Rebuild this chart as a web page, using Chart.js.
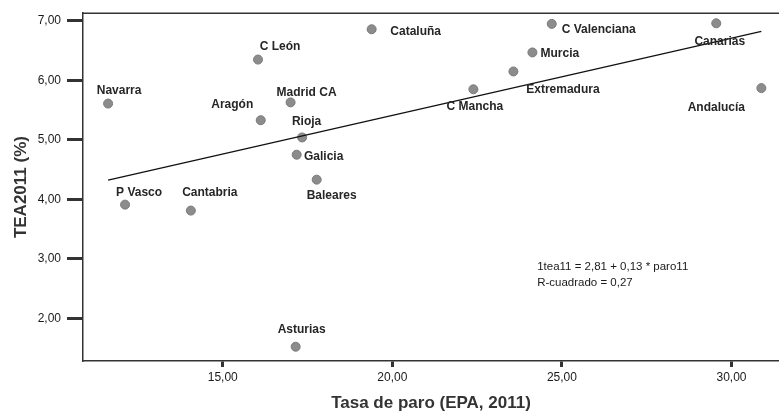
<!DOCTYPE html>
<html><head><meta charset="utf-8">
<script src="https://cdn.jsdelivr.net/npm/chart.js@4"></script>
<style>html,body{margin:0;padding:0;background:#fff}#wrap{width:779px;height:416px}</style>
</head><body><div id="wrap"><canvas id="c" width="779" height="416"></canvas></div>
<script>
// ---- data ----
const regions = ['Navarra','C León','Aragón','Madrid CA','Rioja','Galicia','Baleares','Cataluña','P Vasco','Cantabria','Asturias','C Valenciana','Murcia','Extremadura','C Mancha','Canarias','Andalucía'];
const paro = [11.62,16.04,16.12,17.00,17.34,17.18,17.77,19.39,12.12,14.06,17.15,24.70,24.13,23.57,22.39,29.55,30.88];
const tea  = [5.61,6.35,5.33,5.63,5.04,4.75,4.33,6.86,3.91,3.81,1.52,6.95,6.47,6.15,5.85,6.96,5.87];
const xTicks = [15,20,25,30];
const yTicks = [2,3,4,5,6,7];
const fitIntercept = 2.81;
const fitSlope = 0.13;
const equationLines = ['1tea11 = 2,81 + 0,13 * paro11', 'R-cuadrado = 0,27'];
const xTitle = 'Tasa de paro (EPA, 2011)';
const yTitle = 'TEA2011 (%)';

// ---- label placement (pixel offsets of label centre from point) ----
const labelOffsets = [[11,-12.5],[22,-13],[-28.5,-16],[16,-9.5],[4.5,-16],[27,2],[15,16],[44,2],[14,-12],[19,-18],[6,-17],[47,5.6],[27.4,1.6],[49.5,18.6],[1.4,17],[3.5,18.4],[-45,19.4]];
const eqAnchor = {x:24.27, y:2.86, lineGap:16};

const fmt = v => Number(v).toFixed(2).replace('.', ',');
const pts = paro.map((x,i)=>({x:x, y:tea[i]}));
const xMin = Math.min(...paro), xMax = Math.max(...paro);
const fitPts = [xMin, xMax].map(x=>({x:x, y:fitIntercept + fitSlope*x}));

const FONT = "'Liberation Sans', Arial, sans-serif";

const annot = {
  id:'annot',
  afterDraw(chart){
    const ctx = chart.ctx, ca = chart.chartArea;
    ctx.save();
    // top frame line
    ctx.strokeStyle = '#333'; ctx.lineWidth = 1.5;
    ctx.beginPath(); ctx.moveTo(ca.left, ca.top); ctx.lineTo(ca.right, ca.top); ctx.stroke();
    // point labels
    const meta = chart.getDatasetMeta(1);
    ctx.font = 'bold 12px ' + FONT;
    ctx.fillStyle = '#262626';
    ctx.textAlign = 'center'; ctx.textBaseline = 'middle';
    meta.data.forEach((el,i)=>{
      const o = labelOffsets[i];
      ctx.fillText(regions[i], el.x + o[0], el.y + o[1]);
    });
    // equation
    const xs = chart.scales.x, ys = chart.scales.y;
    ctx.font = '11.5px ' + FONT;
    ctx.fillStyle = '#1a1a1a';
    ctx.textAlign = 'left';
    const ex = xs.getPixelForValue(eqAnchor.x), ey = ys.getPixelForValue(eqAnchor.y);
    equationLines.forEach((t,i)=>ctx.fillText(t, ex, ey + i*eqAnchor.lineGap));
    ctx.restore();
  }
};

new Chart(document.getElementById('c'), {
  type:'scatter',
  data:{ datasets:[
    { type:'line', data:fitPts, borderColor:'#111', borderWidth:1.3, pointRadius:0, fill:false, tension:0 },
    { data:pts, backgroundColor:'#8c8c8c', borderColor:'#7a7a7a', borderWidth:1, pointRadius:4.5, pointHoverRadius:4.5 }
  ]},
  options:{
    responsive:false, animation:false,
    layout:{ autoPadding:false, padding:{ top:12, right:0, left:0, bottom:0 } },
    plugins:{ legend:{display:false}, tooltip:{enabled:false} },
    scales:{
      x:{ type:'linear', min:10.88, max:31.4,
        afterBuildTicks: s => { s.ticks = xTicks.map(v=>({value:v})); },
        afterFit: s => { s.height = 55; },
        grid:{ drawOnChartArea:false, drawTicks:true, tickLength:6, tickWidth:3, tickColor:'#333' },
        border:{ color:'#333', width:1.5 },
        ticks:{ font:{family:FONT, size:12}, color:'#1a1a1a', padding:3, callback: v=>fmt(v), maxRotation:0 },
        title:{ display:true, text:xTitle, font:{family:FONT, size:17, weight:'bold'}, color:'#333', padding:{top:4, bottom:2} }
      },
      y:{ type:'linear', min:1.28, max:7.13,
        afterBuildTicks: s => { s.ticks = yTicks.map(v=>({value:v})); },
        afterFit: s => { s.width = 83; },
        grid:{ drawOnChartArea:false, drawTicks:true, tickLength:16, tickWidth:3, tickColor:'#333' },
        border:{ color:'#333', width:1.5 },
        ticks:{ font:{family:FONT, size:12}, color:'#1a1a1a', padding:6, callback: v=>fmt(v) },
        title:{ display:true, text:yTitle, font:{family:FONT, size:17, weight:'bold'}, color:'#333', padding:{top:11, bottom:4} }
      }
    }
  },
  plugins:[annot]
});
</script></body></html>
